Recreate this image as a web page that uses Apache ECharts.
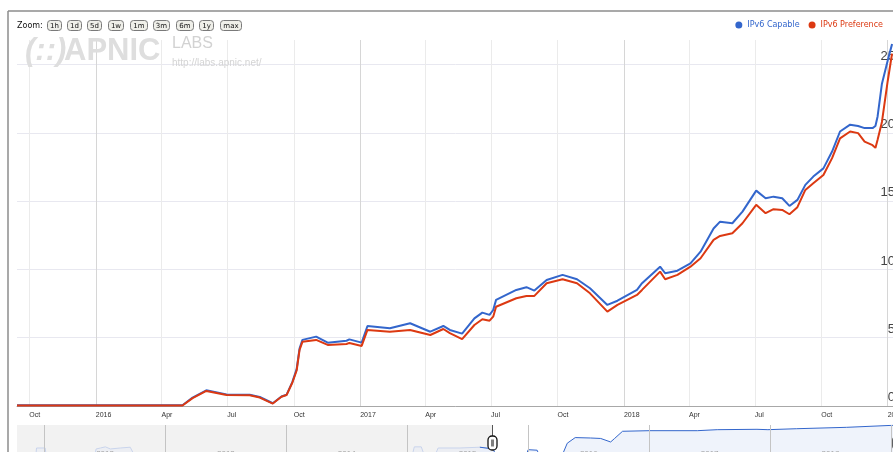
<!DOCTYPE html>
<html><head><meta charset="utf-8">
<script src="https://cdn.jsdelivr.net/npm/echarts@6/dist/echarts.min.js"></script>
<style>html,body{margin:0;padding:0;background:#fff;overflow:hidden}#c{width:893px;height:452px}</style>
</head><body><div id="c"></div><script>
// ---- Main chart data (percent) ----
const dates = ['2015-09-14','2016-01-01','2016-04-30','2016-05-14','2016-06-02','2016-06-30','2016-08-01','2016-08-15','2016-09-02','2016-09-14','2016-09-21','2016-09-29','2016-10-05','2016-10-09','2016-10-13','2016-11-01','2016-11-17','2016-12-13','2016-12-17','2017-01-03','2017-01-11','2017-02-11','2017-03-11','2017-04-08','2017-04-26','2017-05-05','2017-05-22','2017-06-08','2017-06-19','2017-06-29','2017-07-04','2017-07-08','2017-08-05','2017-08-19','2017-08-30','2017-09-16','2017-10-08','2017-10-28','2017-11-15','2017-12-09','2017-12-23','2018-01-19','2018-01-26','2018-02-20','2018-02-27','2018-03-16','2018-04-03','2018-04-17','2018-05-05','2018-05-14','2018-05-31','2018-06-14','2018-07-03','2018-07-16','2018-07-27','2018-08-08','2018-08-18','2018-08-29','2018-09-09','2018-09-20','2018-10-04','2018-10-16','2018-10-27','2018-11-10','2018-11-21','2018-11-30','2018-12-11','2018-12-15','2018-12-18','2018-12-24','2019-01-01','2019-01-07'];
const capable = [0.06,0.06,0.06,0.62,1.15,0.85,0.82,0.66,0.2,0.7,0.82,1.75,2.7,4.2,4.84,5.08,4.64,4.78,4.88,4.64,5.86,5.69,6.06,5.44,5.86,5.57,5.3,6.42,6.84,6.67,7.03,7.77,8.5,8.7,8.45,9.23,9.6,9.28,8.62,7.4,7.71,8.5,8.99,10.2,9.72,9.91,10.45,11.3,13.0,13.5,13.38,14.23,15.77,15.21,15.33,15.21,14.65,15.09,16.19,16.8,17.4,18.63,20.1,20.6,20.5,20.35,20.35,20.5,21.2,23.6,25.3,26.5];
const preference = [0.04,0.04,0.04,0.58,1.1,0.8,0.78,0.62,0.18,0.68,0.8,1.7,2.6,4.1,4.7,4.84,4.47,4.54,4.62,4.4,5.57,5.44,5.57,5.2,5.64,5.33,4.9,5.93,6.35,6.25,6.54,7.27,7.89,8.06,8.06,8.99,9.28,8.99,8.25,6.91,7.4,8.13,8.5,9.84,9.28,9.6,10.2,10.82,12.16,12.45,12.65,13.38,14.73,14.12,14.41,14.36,14.04,14.56,15.82,16.31,16.92,18.15,19.6,20.1,19.98,19.36,19.1,18.9,19.5,20.8,23.8,25.8];
const seriesNames = ['IPv6 Capable','IPv6 Preference'];
const xTickDates = ['2015-10-01','2016-01-01','2016-04-01','2016-07-01','2016-10-01','2017-01-01','2017-04-01','2017-07-01','2017-10-01','2018-01-01','2018-04-01','2018-07-01','2018-10-01','2019-01-01'];
const xTickLabels = ['Oct','2016','Apr','Jul','Oct','2017','Apr','Jul','Oct','2018','Apr','Jul','Oct','2019'];
const yMin = 0, yMax = 26.8, yStep = 5;
const viewStart = '2015-09-14', viewEnd = '2019-01-18';

// ---- Range navigator data ----
const navDates = ['2011-10-10','2011-12-06','2011-12-08','2012-01-03','2012-01-06','2012-06-01','2012-06-05','2012-06-18','2012-07-03','2012-07-18','2012-08-17','2012-09-16','2012-09-28','2015-01-16','2015-01-22','2015-02-12','2015-02-21','2015-03-26','2015-04-04','2015-06-09','2015-08-08','2015-09-17','2015-09-25','2015-12-26','2016-01-01','2016-01-28','2016-02-03','2016-04-13','2016-04-28','2016-05-22','2016-07-07','2016-08-07','2016-09-06','2016-09-18','2016-10-12','2017-01-01','2017-05-26','2017-07-25','2017-11-22','2017-12-25','2018-03-22','2018-08-20','2019-01-07'];
const navValues = [0.02,0.02,0.1,0.1,0.02,0.02,0.08,0.1,0.13,0.08,0.1,0.12,0.02,0.02,0.13,0.13,0.02,0.02,0.1,0.1,0.12,0.08,0.02,0.02,0.068,0.06,0.02,0.02,0.3,1.1,1.0,0.9,0.4,0.9,4.7,5.4,5.4,6.8,7.4,6.8,8.5,11.7,18.6];
const navStart = '2011-10-10', navEnd = '2019-01-28';
const navYearStarts = ['2012-01-01','2013-01-01','2014-01-01','2015-01-01','2016-01-01','2017-01-01','2018-01-01','2019-01-01'];
const navYearMids = ['2012-07-02','2013-07-02','2014-07-02','2015-07-02','2016-07-02','2017-07-02','2018-07-02'];
const navYearLabels = ['2012','2013','2014','2015','2016','2017','2018'];

const zoomButtons = ['1h','1d','5d','1w','1m','3m','6m','1y','max'];

const t = s => Date.parse(s + 'T00:00:00Z');
const BLUE = '#3366cc', RED = '#dc3912';
const xLabelMap = {}; xTickDates.forEach((d,i)=>{ xLabelMap[t(d)] = xTickLabels[i]; });
const navLabelMap = {}; navYearMids.forEach((d,i)=>{ navLabelMap[t(d)] = navYearLabels[i]; });

const capData = dates.map((d,i)=>[t(d), capable[i]]);
const prefData = dates.map((d,i)=>[t(d), preference[i]]);
const vs = t(viewStart);
const splitIdx = navDates.findIndex(d => t(d) >= vs);
const navAll = navDates.map((d,i)=>[t(d), navValues[i]]);
const navPre = navAll.slice(0, splitIdx + 1);
const navPost = navAll.slice(splitIdx - 1);

const chart = echarts.init(document.getElementById('c'), null, {renderer:'canvas'});

const UIFONT = 'DejaVu Sans';
const staticGraphics = [];
staticGraphics.push({type:'line', shape:{x1:8, y1:11, x2:893, y2:11}, style:{stroke:'#8c8c8c', lineWidth:1.5}, z:20});
staticGraphics.push({type:'line', shape:{x1:8, y1:11, x2:8, y2:452}, style:{stroke:'#8c8c8c', lineWidth:1.5}, z:20});
staticGraphics.push({type:'text', x:17, y:26, style:{text:'Zoom:', font:'8px "DejaVu Sans"', fill:'#111', textVerticalAlign:'middle'}, z:20});
const btnX = [47,67,87,108,130,153,176,199,220];
const btnW = [14,14,14,15,17,16,17,14,21];
zoomButtons.forEach((b,i)=>{
  staticGraphics.push({type:'rect', shape:{x:btnX[i]+0.5, y:20.5, width:btnW[i], height:10, r:3}, style:{fill:'#efefe9', stroke:'#7a7a7a', lineWidth:1}, z:20});
  staticGraphics.push({type:'text', x:btnX[i]+0.5+btnW[i]/2, y:26, style:{text:b, font:'7px "DejaVu Sans"', fill:'#111', textAlign:'center', textVerticalAlign:'middle'}, z:21});
});
staticGraphics.push({type:'text', x:25, y:67, style:{text:'(::)', font:'italic bold 31px "Liberation Sans"', fill:'#dedede', textVerticalAlign:'bottom'}, z:1});
staticGraphics.push({type:'text', x:64, y:67, style:{text:'APNIC', font:'bold 31px "Liberation Sans"', fill:'#dedede', textVerticalAlign:'bottom'}, z:1});
staticGraphics.push({type:'text', x:172, y:52, style:{text:'LABS', font:'16px "Liberation Sans"', fill:'#d2d2d2', textVerticalAlign:'bottom'}, z:1});
staticGraphics.push({type:'text', x:172, y:68, style:{text:'http://labs.apnic.net/', font:'10px "Liberation Sans"', fill:'#d4d4d4', textVerticalAlign:'bottom'}, z:1});

const option = {
  animation:false,
  backgroundColor:'#ffffff',
  legend:{
    data:[{name:seriesNames[0], textStyle:{color:BLUE}},{name:seriesNames[1], textStyle:{color:RED}}],
    icon:'circle', itemWidth:7, itemHeight:7, itemGap:9,
    right:10, top:21, padding:0,
    textStyle:{fontFamily:UIFONT, fontSize:8}
  },
  grid:[
    {left:17, right:-7, top:40, bottom:46, outerBoundsMode:'none', containLabel:false},
    {left:17, right:-7, top:425, bottom:0, outerBoundsMode:'none', containLabel:false}
  ],
  xAxis:[
    {type:'value', gridIndex:0, min:t(viewStart), max:t(viewEnd), z:0,
     axisLine:{show:true, lineStyle:{color:'#a8a8a8', width:1}},
     axisTick:{show:false, customValues:xTickDates.map(t)},
     axisLabel:{customValues:xTickDates.map(t), formatter:v=>xLabelMap[v]||'', align:'left', margin:6,
       fontFamily:'Liberation Sans', fontSize:7, color:'#333'},
     splitLine:{show:true, lineStyle:{color:['#ebebeb','#d6d6d6','#ebebeb','#ebebeb'], width:1}}
    },
    {type:'value', gridIndex:1, min:t(navStart), max:t(navEnd), z:3,
     axisLine:{show:false},
     axisTick:{show:false, customValues:navYearStarts.map(t)},
     axisLabel:{customValues:navYearMids.map(t), formatter:v=>navLabelMap[v]||'', align:'center', margin:-2,
       fontFamily:'Liberation Sans', fontSize:8, color:'#a0a0a0'},
     splitLine:{show:true, lineStyle:{color:'#c4c4c4', width:1}}
    }
  ],
  yAxis:[
    {type:'value', gridIndex:0, position:'right', min:yMin, max:yMax, interval:yStep,
     axisLine:{show:false}, axisTick:{show:false},
     axisLabel:{inside:true, margin:5, verticalAlign:'bottom', formatter:v=>(v%yStep===0?String(v):''),
       fontFamily:'Liberation Sans', fontSize:13, color:'#444', showMaxLabel:false, padding:[0,0,2,0]},
     splitLine:{show:true, showMaxLine:false, lineStyle:{color:'#e8e8f0', width:1}}
    },
    {type:'log', gridIndex:1, min:0.0398, max:19.95, show:false, splitLine:{show:false}}
  ],
  series:[
    {name:seriesNames[0], type:'line', xAxisIndex:0, yAxisIndex:0, data:capData, symbol:'none', showSymbol:false,
     lineStyle:{color:BLUE, width:2}, itemStyle:{color:BLUE}, z:3},
    {name:seriesNames[1], type:'line', xAxisIndex:0, yAxisIndex:0, data:prefData, symbol:'none', showSymbol:false,
     lineStyle:{color:RED, width:2}, itemStyle:{color:RED}, z:4},
    {name:'navBg', type:'line', xAxisIndex:1, yAxisIndex:1, data:[], symbol:'none', z:1,
     markArea:{silent:true, itemStyle:{color:'#f2f2f2'}, data:[[{xAxis:t(navStart)},{xAxis:t(viewStart)}]]}},
    {name:'navPre', type:'line', xAxisIndex:1, yAxisIndex:1, data:navPre, symbol:'none', z:2,
     lineStyle:{color:'#c9d4ec', width:1}, areaStyle:{color:'#e9ecf3', origin:'start'}},
    {name:'navPost', type:'line', xAxisIndex:1, yAxisIndex:1, data:navPost, symbol:'none', z:2,
     lineStyle:{color:BLUE, width:1}, areaStyle:{color:'#e8eef9', origin:'start'}}
  ],
  graphic: staticGraphics
};
chart.setOption(option);

const hx = [chart.convertToPixel({xAxisIndex:1}, t(viewStart)), chart.convertToPixel({xAxisIndex:1}, t(viewEnd))];
const handles = [];
hx.forEach(px=>{
  px = Math.round(px) + 0.5;
  handles.push({type:'line', shape:{x1:px, y1:425, x2:px, y2:436}, style:{stroke:'#555', lineWidth:1}, z:30});
  handles.push({type:'rect', shape:{x:px-4.5, y:436, width:9, height:14, r:4}, style:{fill:'#fff', stroke:'#111', lineWidth:1.3}, z:30});
  handles.push({type:'rect', shape:{x:px-1.5, y:439.5, width:3, height:7}, style:{fill:'#808080'}, z:31});
});
chart.setOption({graphic: staticGraphics.concat(handles)});
</script></body></html>
